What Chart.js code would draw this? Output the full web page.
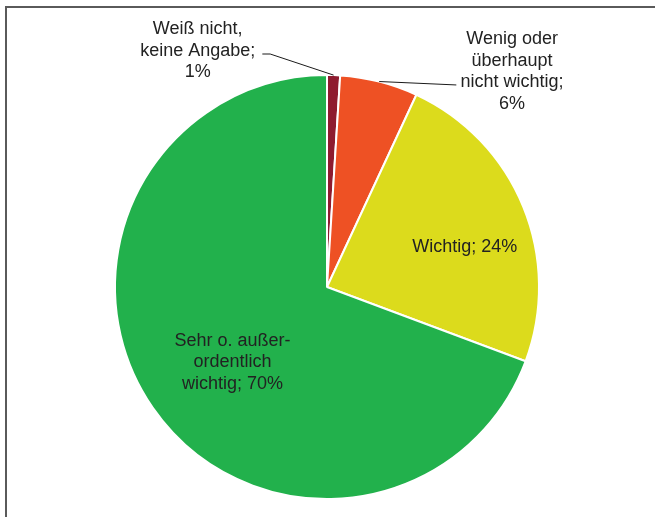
<!DOCTYPE html>
<html>
<head>
<meta charset="utf-8">
<script src="https://cdn.jsdelivr.net/npm/chart.js@4.4.1/dist/chart.umd.min.js"></script>
<style>
    html, body { margin: 0; padding: 0; background: #fff; }
    #wrap { position: relative; width: 655px; height: 517px; overflow: hidden; }
    #rahmen {
        position: absolute; left: 5px; top: 6px; width: 700px; height: 600px;
        border-top: 2px solid #5a5a5a; border-left: 2px solid #5a5a5a;
    }
    #wrap canvas { position: absolute; left: 0; top: 0; }
</style>
</head>
<body>
<div id="wrap">
    <div id="rahmen"></div>
    <canvas id="torte"></canvas>
</div>
<script>
// ******************* DATEN ***********************/
const kategorien = ['Weiß nicht, keine Angabe', 'Wenig oder überhaupt nicht wichtig', 'Wichtig', 'Sehr o. außerordentlich wichtig']
const anteile = [1, 6, 24, 70]
const farben = ['#8e1b2f', '#ee5124', '#dcdb1c', '#22b14c']

// Beschriftung so umbrochen wie im Original
const beschriftung = [
    ['Weiß nicht,', 'keine Angabe;', '1%'],
    ['Wenig oder', 'überhaupt', 'nicht wichtig;', '6%'],
    ['Wichtig; 24%'],
    ['Sehr o. außer-', 'ordentlich', 'wichtig; 70%']
]

// Position der Texte relativ zur Tortenmitte (in Radien), erste Grundlinie
const textPos = [
    { dx: -0.610, dy: -1.192, linie: [[-0.305, -1.099], [-0.268, -1.099]] },
    { dx: 0.873, dy: -1.145, linie: [[0.610, -0.953]] },
    { dx: 0.650, dy: -0.164 },
    { dx: -0.446, dy: 0.277 }
]

// ******************* PLUGIN FÜR DIE BESCHRIFTUNG ***********************/
const beschriftungPlugin = {
    id: 'beschriftung',
    afterDatasetsDraw(chart) {
        const ctx = chart.ctx
        const meta = chart.getDatasetMeta(0)
        const zeilenHoehe = 21.5

        ctx.save()
        meta.data.forEach((bogen, i) => {
            const cx = bogen.x
            const cy = bogen.y
            const r = bogen.outerRadius
            const pos = textPos[i]

            // Führungslinie vom Tortenrand zum Text
            if (pos.linie) {
                const mitte = (bogen.startAngle + bogen.endAngle) / 2
                ctx.beginPath()
                ctx.strokeStyle = '#1a1a1a'
                ctx.lineWidth = 1
                ctx.moveTo(cx + Math.cos(mitte) * r, cy + Math.sin(mitte) * r)
                pos.linie.slice().reverse().forEach(p => {
                    ctx.lineTo(cx + p[0] * r, cy + p[1] * r)
                })
                ctx.stroke()
            }

            ctx.fillStyle = '#222'
            ctx.font = '18px "Liberation Sans", Arial, sans-serif'
            ctx.textAlign = 'center'
            ctx.textBaseline = 'alphabetic'
            beschriftung[i].forEach((zeile, k) => {
                ctx.fillText(zeile, cx + pos.dx * r, cy + pos.dy * r + k * zeilenHoehe)
            })
        })
        ctx.restore()
    }
}

const ctx = document.getElementById('torte')

new Chart(ctx, {
    type: 'pie',
    data: {
        labels: kategorien,
        datasets: [{
            data: anteile,
            backgroundColor: farben,
            borderColor: '#ffffff',
            borderWidth: 2
        }]
    },
    options: {
        responsive: true,
        maintainAspectRatio: false,
        animation: false,
        layout: { padding: { top: 74, bottom: 17, left: 0, right: 1 } },
        plugins: {
            legend: { display: false },
            tooltip: { enabled: false }
        }
    },
    plugins: [beschriftungPlugin]
})
</script>
</body>
</html>
